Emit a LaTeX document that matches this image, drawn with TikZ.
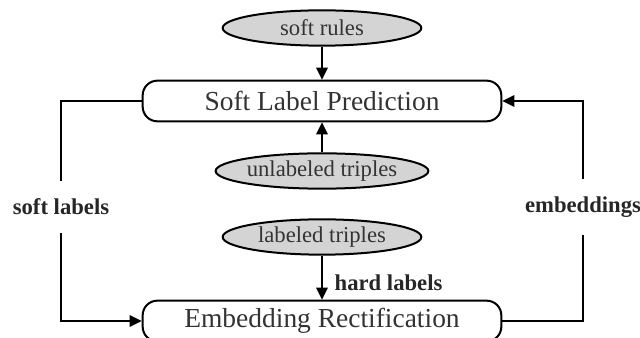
\documentclass[tikz,border=0pt]{standalone}
\usepackage{fontspec}
\setmainfont{Liberation Serif}
\usepackage{tikz}
\usetikzlibrary{calc,positioning,arrows.meta,shapes.geometric}

\tikzset{
  box/.style={draw, rounded corners=11pt, line width=1.5pt, minimum width=269pt,
    minimum height=30.5pt, inner sep=0pt, text=black!80,
    font=\fontsize{20.6}{24}\selectfont},
  blob/.style={ellipse, draw, fill=black!17, line width=1.5pt, minimum width=149pt,
    minimum height=26.5pt, inner sep=0pt, text=black!80,
    font=\fontsize{17}{20}\selectfont},
  lbl/.style={font=\bfseries\fontsize{17}{20}\selectfont, text=black!85},
  flow/.style={line width=1.5pt, -{Triangle[length=9pt,width=8.5pt]}},
}

\begin{document}
\begin{tikzpicture}[x=0.75pt, y=-0.75pt]
\useasboundingbox (0,0) rectangle (640,338);

\node[blob] (rules) at (322,28) {soft rules};
\node[box] (pred) at (322,101) {Soft Label Prediction};
\node[blob] (unlab) at (322,171) {unlabeled triples};
\node[blob] (lab) at (322,237) {labeled triples};
\node[box] (rect) at (322,321) {Embedding Rectification};

\node[lbl, inner xsep=0pt, inner ysep=13pt] (soft) at (61,207) {soft labels};
\node[lbl, inner xsep=0pt, inner ysep=13pt] (emb) at (583,207) {embeddings};
\node[lbl, anchor=west] (hard) at (330,283) {hard labels};

\draw[flow] (rules) -- (pred);
\draw[flow] (unlab) -- (pred);
\draw[flow] (lab) -- (rect);

% feedback loop
\draw[line width=1.5pt] (pred.west) -| (soft.north);
\draw[flow] (soft.south) |- (rect.west);
\draw[line width=1.5pt] (rect.east) -| (emb.south);
\draw[flow] (emb.north) |- (pred.east);
\end{tikzpicture}
\end{document}
